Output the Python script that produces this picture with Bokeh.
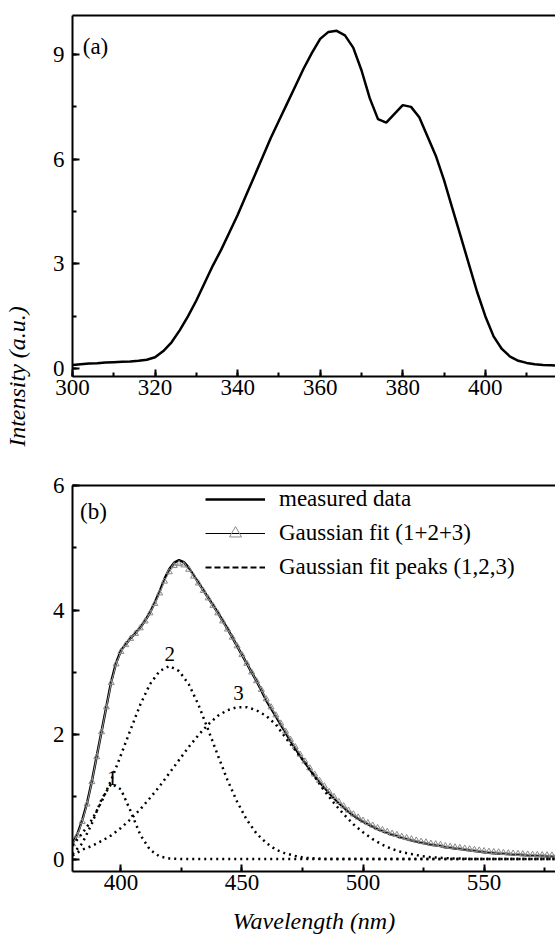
from math import pi
from bokeh.plotting import figure
from bokeh.models import (ColumnDataSource, Legend, LegendItem, Label,
                          LinearAxis, SingleIntervalTicker, Range1d)
from bokeh.layouts import row, column
from bokeh.embed import file_html
from bokeh.resources import INLINE
from bokeh.core.properties import value

FONT = "Liberation Serif"

# ---------------- Panel (a): excitation spectrum ----------------
wl_a = list(range(300, 420, 2))
int_a = [
    0.10, 0.12, 0.14, 0.15, 0.17, 0.18, 0.19, 0.20, 0.22, 0.25,
    0.32, 0.50, 0.75, 1.10, 1.50, 1.95, 2.45, 2.95, 3.40, 3.90,
    4.40, 4.95, 5.50, 6.05, 6.60, 7.10, 7.60, 8.10, 8.60, 9.05,
    9.45, 9.65, 9.68, 9.55, 9.20, 8.55, 7.75, 7.15, 7.05, 7.30,
    7.55, 7.50, 7.20, 6.65, 6.10, 5.40, 4.60, 3.80, 3.00, 2.20,
    1.50, 0.92, 0.56, 0.34, 0.22, 0.16, 0.12, 0.10, 0.09, 0.08,
]
xtick_step_a = 20
ytick_step_a = 3

# ---------------- Panel (b): emission spectrum + Gaussian fits ----------------
wl_b = list(range(380, 582, 2))
measured = [
    0.25, 0.40, 0.62, 0.90, 1.25, 1.65, 2.05, 2.45, 2.85, 3.15,
    3.35, 3.45, 3.55, 3.63, 3.72, 3.83, 3.96, 4.12, 4.30, 4.50,
    4.66, 4.76, 4.80, 4.77, 4.68, 4.56, 4.44, 4.32, 4.20, 4.08,
    3.96, 3.83, 3.70, 3.56, 3.42, 3.28, 3.14, 3.00, 2.86, 2.71,
    2.55, 2.42, 2.29, 2.16, 2.03, 1.90, 1.78, 1.66, 1.55, 1.44,
    1.34, 1.24, 1.15, 1.06, 0.98, 0.90, 0.83, 0.76, 0.70, 0.65,
    0.60, 0.56, 0.52, 0.48, 0.45, 0.42, 0.39, 0.37, 0.34, 0.32,
    0.30, 0.28, 0.26, 0.25, 0.23, 0.22, 0.21, 0.19, 0.18, 0.17,
    0.16, 0.15, 0.14, 0.13, 0.12, 0.11, 0.10, 0.095, 0.09, 0.085,
    0.08, 0.075, 0.07, 0.065, 0.06, 0.055, 0.05, 0.048, 0.045, 0.043,
    0.04,
]
fit_total = [
    0.24, 0.38, 0.60, 0.88, 1.24, 1.64, 2.04, 2.44, 2.83, 3.13,
    3.33, 3.44, 3.54, 3.62, 3.71, 3.82, 3.95, 4.10, 4.27, 4.46,
    4.61, 4.71, 4.74, 4.72, 4.65, 4.54, 4.43, 4.31, 4.19, 4.07,
    3.95, 3.82, 3.69, 3.56, 3.42, 3.28, 3.14, 3.00, 2.86, 2.72,
    2.57, 2.44, 2.31, 2.18, 2.05, 1.92, 1.80, 1.68, 1.57, 1.46,
    1.36, 1.26, 1.17, 1.08, 1.00, 0.92, 0.85, 0.78, 0.72, 0.67,
    0.62, 0.58, 0.54, 0.50, 0.47, 0.44, 0.41, 0.39, 0.36, 0.34,
    0.32, 0.30, 0.28, 0.27, 0.25, 0.24, 0.23, 0.21, 0.20, 0.19,
    0.18, 0.17, 0.16, 0.15, 0.14, 0.13, 0.12, 0.115, 0.11, 0.10,
    0.095, 0.09, 0.085, 0.08, 0.075, 0.07, 0.068, 0.065, 0.062, 0.06,
    0.058,
]
wl_p = list(range(380, 584, 4))
peak1 = [
    0.08, 0.25, 0.57, 0.96, 1.21, 1.12, 0.77, 0.39, 0.15, 0.04,
    0.01, 0, 0, 0, 0, 0, 0, 0, 0, 0,
    0, 0, 0, 0, 0, 0, 0, 0, 0, 0,
    0, 0, 0, 0, 0, 0, 0, 0, 0, 0,
    0, 0, 0, 0, 0, 0, 0, 0, 0, 0,
    0,
]
peak2 = [
    0.22, 0.41, 0.63, 0.92, 1.27, 1.67, 2.08, 2.48, 2.81, 3.02,
    3.10, 3.02, 2.81, 2.48, 2.08, 1.67, 1.27, 0.92, 0.63, 0.41,
    0.26, 0.15, 0.09, 0.05, 0.02, 0.01, 0, 0, 0, 0,
    0, 0, 0, 0, 0, 0, 0, 0, 0, 0,
    0, 0, 0, 0, 0, 0, 0, 0, 0, 0,
    0,
]
peak3 = [
    0.06, 0.15, 0.21, 0.29, 0.38, 0.50, 0.64, 0.80, 0.98, 1.17,
    1.38, 1.59, 1.80, 1.99, 2.16, 2.30, 2.39, 2.44, 2.44, 2.39,
    2.30, 2.16, 1.95, 1.75, 1.55, 1.32, 1.10, 0.90, 0.72, 0.56,
    0.43, 0.32, 0.23, 0.16, 0.11, 0.08, 0.05, 0.03, 0.02, 0.01,
    0.01, 0, 0, 0, 0, 0, 0, 0, 0, 0,
    0,
]
peak_lbl = ["1", "2", "3"]
peak_lbl_x = [396.4, 420.2, 448.6]
peak_lbl_y = [1.30, 3.30, 2.66]
xtick_step_b = 50
ytick_step_b = 2


def style(p, xint, yint):
    p.xgrid.visible = False
    p.ygrid.visible = False
    p.outline_line_color = None
    xa = p.below[0]
    ya = p.left[0]
    for ax in (xa, ya):
        ax.axis_line_width = 2
        ax.axis_line_color = "black"
        ax.major_tick_in = 7
        ax.major_tick_out = 0
        ax.minor_tick_in = 4
        ax.minor_tick_out = 0
        ax.major_tick_line_width = 2
        ax.minor_tick_line_width = 2
        ax.major_tick_line_color = "black"
        ax.minor_tick_line_color = "black"
        ax.major_label_text_font = FONT
        ax.major_label_text_font_size = "23px"
        ax.major_label_text_color = "black"
    xa.ticker = SingleIntervalTicker(interval=xint, num_minor_ticks=2)
    ya.ticker = SingleIntervalTicker(interval=yint, num_minor_ticks=2)
    xa.major_label_standoff = 3
    ya.major_label_standoff = 8
    top = LinearAxis(major_tick_in=0, major_tick_out=0, minor_tick_in=0,
                     minor_tick_out=0, major_label_text_color=None,
                     major_label_standoff=0, axis_line_width=2,
                     axis_line_color="black")
    p.add_layout(top, "above")
    return xa, ya


# ---- label column (shared y-axis title) ----
pl = figure(width=42, height=936, toolbar_location=None, output_backend="svg",
            x_range=Range1d(0, 42), y_range=Range1d(0, 936),
            x_axis_location=None, y_axis_location=None, min_border=0)
pl.grid.visible = False
pl.outline_line_color = None
pl.add_layout(Label(x=16, y=560, x_units="screen", y_units="screen",
                    text="Intensity (a.u.)", angle=pi / 2,
                    text_font=FONT, text_font_style="italic",
                    text_font_size="24px", text_align="center",
                    text_baseline="middle", text_color="black"))

# ---- panel (a) ----
pa = figure(width=513, height=436, toolbar_location=None, output_backend="svg",
            x_range=Range1d(300, 417), y_range=Range1d(-0.23, 10.12),
            min_border_left=30, min_border_right=0, min_border_top=15,
            min_border_bottom=60)
style(pa, xtick_step_a, ytick_step_a)
pa.line(wl_a, int_a, line_color="black", line_width=2.5)
pa.add_layout(Label(x=23, y=330, x_units="screen", y_units="screen", text="(a)",
                    text_font=FONT, text_font_size="23px", text_align="center",
                    text_baseline="middle", text_color="black"))

# ---- panel (b) ----
pb = figure(width=513, height=500, toolbar_location=None, output_backend="svg",
            x_range=Range1d(380, 579.5), y_range=Range1d(-0.2, 6.0),
            min_border_left=30, min_border_right=0, min_border_top=49,
            min_border_bottom=64)
xb, yb = style(pb, xtick_step_b, ytick_step_b)
xb.axis_label = "Wavelength (nm)"
xb.axis_label_text_font = FONT
xb.axis_label_text_font_style = "italic"
xb.axis_label_text_font_size = "24px"
xb.axis_label_text_color = "black"
xb.axis_label_standoff = 15

src_b = ColumnDataSource(dict(x=wl_b, measured=measured, fit=fit_total))
src_p = ColumnDataSource(dict(x=wl_p, p1=peak1, p2=peak2, p3=peak3))

r_meas = pb.line("x", "measured", source=src_b, line_color="black", line_width=2.5)
pb.line("x", "fit", source=src_b, line_color="#9a9a9a", line_width=1)
r_fit = pb.scatter("x", "fit", source=src_b, marker="triangle", size=6,
                   line_color="#8a8a8a", line_width=1, fill_alpha=0)
for col in ("p1", "p2", "p3"):
    pb.line("x", col, source=src_p, line_color="black", line_width=2.5,
            line_dash="2 4")

pb.text(peak_lbl_x, peak_lbl_y, text=peak_lbl, text_font=value(FONT),
        text_font_size="21px", text_align="center", text_baseline="middle",
        text_color="black")

nan = float("nan")
dummy = ColumnDataSource(dict(x=[nan, nan], y=[nan, nan]))
r_fit_line = pb.line("x", "y", source=dummy, line_color="black", line_width=1)
r_peaks_leg = pb.line("x", "y", source=dummy, line_color="black", line_width=2,
                      line_dash="6 3")

legend = Legend(items=[
    LegendItem(label="measured data", renderers=[r_meas]),
    LegendItem(label="Gaussian fit (1+2+3)", renderers=[r_fit_line, r_fit]),
    LegendItem(label="Gaussian fit peaks (1,2,3)", renderers=[r_peaks_leg]),
], location=(133, 289), border_line_color=None, background_fill_alpha=0,
    padding=0, spacing=4, glyph_width=60, glyph_height=30, label_height=30,
    label_standoff=14, label_text_font=FONT, label_text_font_size="23px",
    label_text_color="black", margin=0)
pb.add_layout(legend)

pb.add_layout(Label(x=21, y=360, x_units="screen", y_units="screen", text="(b)",
                    text_font=FONT, text_font_size="23px", text_align="center",
                    text_baseline="middle", text_color="black"))

layout = row(pl, column(pa, pb))
open("out.html", "w").write(file_html(layout, INLINE))
